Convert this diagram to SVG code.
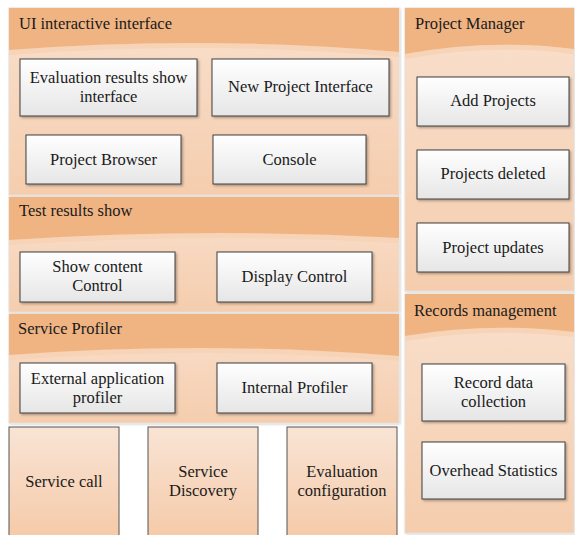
<svg xmlns="http://www.w3.org/2000/svg" width="575" height="535" viewBox="0 0 575 535" font-family="'Liberation Serif', 'DejaVu Serif', serif" font-size="16.5">
<defs>
<linearGradient id="body" x1="0" y1="0" x2="0" y2="1">
<stop offset="0" stop-color="#F9E0CD"/>
<stop offset="1" stop-color="#F5CDAE"/>
</linearGradient>
<linearGradient id="box" x1="0" y1="0" x2="0" y2="1">
<stop offset="0" stop-color="#FFFFFF"/>
<stop offset="1" stop-color="#E6E6E6"/>
</linearGradient>
<linearGradient id="col" x1="0" y1="0" x2="0" y2="1">
<stop offset="0" stop-color="#F9E4D5"/>
<stop offset="1" stop-color="#F5CAA8"/>
</linearGradient>
<filter id="sh" x="-10%" y="-10%" width="130%" height="140%">
<feDropShadow dx="1.5" dy="1.5" stdDeviation="1" flood-color="#000" flood-opacity="0.3"/>
</filter>
<filter id="csh" x="-5%" y="-5%" width="110%" height="110%">
<feDropShadow dx="1" dy="1" stdDeviation="0.8" flood-color="#000" flood-opacity="0.18"/>
</filter>
</defs>
<style>
.cont{fill:url(#body);stroke:#E6DDD5;stroke-width:1;filter:url(#csh)}
.band{fill:#F0B483}
.hl{fill:none;stroke:#F7D3B7;stroke-width:5}
.box{fill:url(#box);stroke:#3F3F3F;stroke-width:1;filter:url(#sh)}
.colbox{fill:url(#col);stroke:#555;stroke-width:1}
text{font-family:'Liberation Serif','DejaVu Serif',serif;font-size:16.5px;fill:#1A1A1A}
.c{text-anchor:middle}
</style>
<rect width="575" height="535" fill="#FFFFFF"/>

<g id="ui-interface">
<rect class="cont" x="9" y="8" width="390" height="187"/>
<path class="hl" d="M9.5,52.5 Q204,37.5 398.5,54.5"/>
<path class="band" d="M9,8 H399 V52 Q204,35 9,50 Z"/>
<text x="19" y="29">UI interactive interface</text>
</g>
<g id="eval-results-interface">
<rect class="box" x="20" y="59" width="177" height="57"/>
<text class="c" x="108.5" y="83">Evaluation results show</text>
<text class="c" x="108.5" y="102">interface</text>
</g>
<g id="new-project-interface">
<rect class="box" x="212" y="59" width="177" height="57"/>
<text class="c" x="300.5" y="92">New Project Interface</text>
</g>
<g id="project-browser">
<rect class="box" x="26" y="135" width="155" height="49"/>
<text class="c" x="103.5" y="165">Project Browser</text>
</g>
<g id="console">
<rect class="box" x="213" y="135" width="153" height="49"/>
<text class="c" x="289.5" y="165">Console</text>
</g>

<g id="test-results-show">
<rect class="cont" x="9" y="197" width="390" height="115"/>
<path class="hl" d="M9.5,242.5 Q204,229.5 398.5,240.5"/>
<path class="band" d="M9,197 H399 V238 Q204,227 9,240 Z"/>
<text x="19" y="216">Test results show</text>
</g>
<g id="show-content-control">
<rect class="box" x="20" y="252" width="155" height="50"/>
<text class="c" x="97.5" y="272">Show content</text>
<text class="c" x="97.5" y="291">Control</text>
</g>
<g id="display-control">
<rect class="box" x="217" y="252" width="155" height="50"/>
<text class="c" x="294.5" y="282">Display Control</text>
</g>

<g id="service-profiler">
<rect class="cont" x="9" y="314" width="390" height="109"/>
<path class="hl" d="M9.5,357.5 Q204,343 398.5,358.5"/>
<path class="band" d="M9,314 H399 V356 Q204,340.5 9,355 Z"/>
<text x="18" y="334">Service Profiler</text>
</g>
<g id="external-app-profiler">
<rect class="box" x="20" y="363" width="155" height="50"/>
<text class="c" x="97.5" y="384">External application</text>
<text class="c" x="97.5" y="403">profiler</text>
</g>
<g id="internal-profiler">
<rect class="box" x="217" y="363" width="155" height="50"/>
<text class="c" x="294.5" y="393">Internal Profiler</text>
</g>

<g id="service-call">
<rect class="colbox" x="9" y="427" width="110" height="112"/>
<text class="c" x="64" y="487">Service call</text>
</g>
<g id="service-discovery">
<rect class="colbox" x="148" y="427" width="110" height="112"/>
<text class="c" x="203" y="477">Service</text>
<text class="c" x="203" y="496">Discovery</text>
</g>
<g id="evaluation-configuration">
<rect class="colbox" x="287" y="427" width="110" height="112"/>
<text class="c" x="342" y="477">Evaluation</text>
<text class="c" x="342" y="496">configuration</text>
</g>

<g id="project-manager">
<rect class="cont" x="405" y="8" width="169" height="283"/>
<path class="hl" d="M405.5,56.5 Q490,41 573.5,51.5"/>
<path class="band" d="M405,8 H574 V49 Q490,38.5 405,54 Z"/>
<text x="415" y="29">Project Manager</text>
</g>
<g id="add-projects">
<rect class="box" x="417" y="77" width="152" height="49"/>
<text class="c" x="493" y="106">Add Projects</text>
</g>
<g id="projects-deleted">
<rect class="box" x="417" y="150" width="152" height="49"/>
<text class="c" x="493" y="179">Projects deleted</text>
</g>
<g id="project-updates">
<rect class="box" x="417" y="223" width="152" height="49"/>
<text class="c" x="493" y="253">Project updates</text>
</g>

<g id="records-management">
<rect class="cont" x="405" y="294" width="169" height="239"/>
<path class="hl" d="M405.5,338.5 Q490,324.5 573.5,334.5"/>
<path class="band" d="M405,294 H574 V332 Q490,322 405,336 Z"/>
<text x="414" y="316">Records management</text>
</g>
<g id="record-data-collection">
<rect class="box" x="422" y="364" width="143" height="57"/>
<text class="c" x="493.5" y="388">Record data</text>
<text class="c" x="493.5" y="407">collection</text>
</g>
<g id="overhead-statistics">
<rect class="box" x="422" y="442" width="143" height="57"/>
<text class="c" x="493.5" y="476">Overhead Statistics</text>
</g>

<g id="connectors"></g>
</svg>
